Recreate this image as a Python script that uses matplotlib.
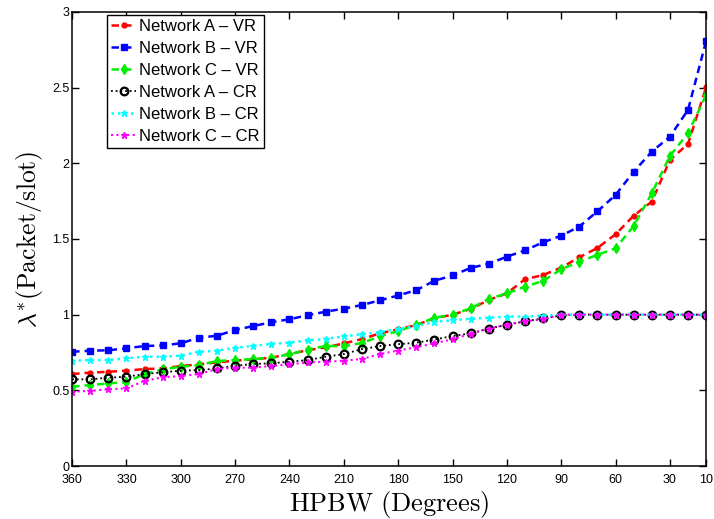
import matplotlib
matplotlib.use("Agg")
import matplotlib.pyplot as plt

plt.rcParams['mathtext.fontset'] = 'cm'
plt.rcParams['font.family'] = ['Liberation Sans', 'DejaVu Sans']

# HPBW en degres, de 360 a 10 par pas de 10
hpbw = list(range(360, 0, -10))

net_a_vr = [0.608, 0.617, 0.623, 0.630, 0.641, 0.645, 0.661, 0.672, 0.685, 0.696,
            0.705, 0.716, 0.740, 0.765, 0.785, 0.810, 0.839, 0.877, 0.903, 0.932,
            0.976, 1.000, 1.038, 1.097, 1.141, 1.234, 1.262, 1.311, 1.379, 1.441,
            1.531, 1.654, 1.747, 2.022, 2.128, 2.503]
net_b_vr = [0.755, 0.762, 0.765, 0.778, 0.793, 0.797, 0.811, 0.848, 0.861, 0.899,
            0.925, 0.950, 0.970, 0.996, 1.020, 1.040, 1.064, 1.095, 1.127, 1.162,
            1.224, 1.259, 1.309, 1.337, 1.383, 1.425, 1.478, 1.522, 1.582, 1.683,
            1.791, 1.945, 2.077, 2.176, 2.353, 2.809]
net_c_vr = [0.524, 0.535, 0.546, 0.555, 0.608, 0.639, 0.656, 0.667, 0.694, 0.700,
            0.707, 0.716, 0.738, 0.770, 0.793, 0.792, 0.813, 0.858, 0.892, 0.932,
            0.980, 1.000, 1.042, 1.104, 1.141, 1.185, 1.223, 1.300, 1.350, 1.395,
            1.439, 1.586, 1.802, 2.049, 2.199, 2.452]
net_a_cr = [0.573, 0.573, 0.584, 0.590, 0.608, 0.619, 0.630, 0.634, 0.645, 0.663,
            0.674, 0.679, 0.689, 0.700, 0.722, 0.740, 0.772, 0.793, 0.805, 0.815,
            0.836, 0.859, 0.877, 0.908, 0.934, 0.956, 0.975, 0.995, 1.0, 1.0,
            1.0, 1.0, 1.0, 1.0, 1.0, 1.0]
net_b_cr = [0.696, 0.700, 0.700, 0.712, 0.722, 0.722, 0.729, 0.755, 0.762, 0.782,
            0.794, 0.806, 0.816, 0.830, 0.839, 0.857, 0.871, 0.886, 0.905, 0.925,
            0.952, 0.963, 0.973, 0.980, 0.987, 0.988, 0.993, 1.0, 1.0, 1.0,
            1.0, 1.0, 1.0, 1.0, 1.0, 1.0]
net_c_cr = [0.491, 0.497, 0.507, 0.513, 0.564, 0.586, 0.595, 0.608, 0.641, 0.650,
            0.650, 0.661, 0.672, 0.685, 0.689, 0.696, 0.707, 0.740, 0.763, 0.785,
            0.811, 0.837, 0.875, 0.907, 0.934, 0.956, 0.970, 1.0, 1.0, 1.0,
            1.0, 1.0, 1.0, 1.0, 1.0, 1.0]

x_ticks = [360, 330, 300, 270, 240, 210, 180, 150, 120, 90, 60, 30, 10]
y_ticks = [0, 0.5, 1, 1.5, 2, 2.5, 3]
y_tick_labels = ['0', '0.5', '1', '1.5', '2', '2.5', '3']

fig = plt.figure(figsize=(7.14, 5.19), dpi=100)
ax = fig.add_axes([0.101, 0.102, 0.888, 0.875])

dash = (0, (3, 2))
dot = (0, (1, 1.6))
ax.plot(hpbw, net_a_vr, color='red', linestyle=dash, linewidth=1.8,
        marker='.', markersize=7, label='Network A – VR')
ax.plot(hpbw, net_b_vr, color='blue', linestyle=dash, linewidth=1.8,
        marker='s', markersize=5, markerfacecolor='blue', label='Network B – VR')
ax.plot(hpbw, net_c_vr, color='#00ee00', linestyle=dash, linewidth=1.8,
        marker='d', markersize=5, markerfacecolor='#00ee00', label='Network C – VR')
ax.plot(hpbw, net_a_cr, color='black', linestyle=dot, linewidth=1.3,
        marker='o', markersize=5.5, markerfacecolor='none', markeredgewidth=1.6,
        label='Network A – CR')
ax.plot(hpbw, net_b_cr, color='cyan', linestyle=dot, linewidth=1.8,
        marker='*', markersize=5, label='Network B – CR')
ax.plot(hpbw, net_c_cr, color='magenta', linestyle=dot, linewidth=1.5,
        marker='*', markersize=5, label='Network C – CR')

ax.set_xlim(360, 10)
ax.set_ylim(0, 3)
ax.set_xticks(x_ticks)
ax.set_xticklabels([str(t) for t in x_ticks])
ax.set_yticks(y_ticks)
ax.set_yticklabels(y_tick_labels)
ax.tick_params(direction='in', length=5, width=1, top=True, right=True,
               labelsize=9)
ax.tick_params(axis='x', pad=6)
ax.tick_params(axis='y', pad=2)
for s in ax.spines.values():
    s.set_linewidth(1.1)

ax.set_xlabel(r'$\mathrm{HPBW\ (Degrees)}$', fontsize=19, labelpad=2)
ax.set_ylabel(r'$\lambda^{*}\mathrm{(Packet/slot)}$', fontsize=18.5, labelpad=5)

leg = ax.legend(loc='upper left', bbox_to_anchor=(0.055, 0.993), fontsize=12,
                handlelength=1.5, handletextpad=0.2, labelspacing=0.42,
                borderpad=0.25, borderaxespad=0.0, fancybox=False,
                framealpha=1, edgecolor='black')
leg.get_frame().set_linewidth(1.0)

fig.savefig('out.png', dpi=100)
